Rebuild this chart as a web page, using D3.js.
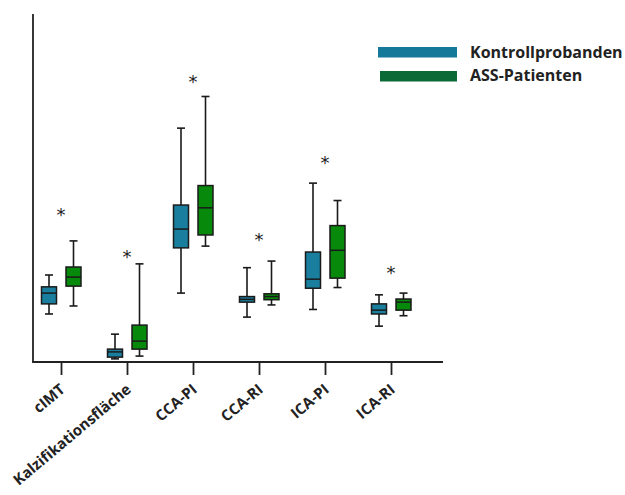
<!DOCTYPE html>
<meta charset="utf-8">
<script src="https://d3js.org/d3.v7.min.js"></script>
<style>
  body { margin: 0; background: #fff; }
  text { font-family: "Open Sans", Lato, sans-serif; }
</style>
<div id="my_dataviz"></div>
<script>

// categories and groups
var categories = ["cIMT", "Kalzifikationsfläche", "CCA-PI", "CCA-RI", "ICA-PI", "ICA-RI"];
var groups = ["Kontrollprobanden", "ASS-Patienten"];

// box statistics per category: [min, q1, median, q3, max] (arbitrary units, no y ticks in original)
var kontrolle = [
  [13.8, 16.7, 19.8, 21.6, 25.0],
  [0.9, 1.4, 2.9, 3.7, 8.0],
  [19.8, 32.8, 38.2, 45.1, 67.2],
  [12.9, 17.2, 18.0, 18.8, 27.1],
  [15.1, 21.2, 23.8, 31.6, 51.4],
  [10.3, 13.8, 14.9, 16.7, 19.3]
];
var patienten = [
  [16.1, 21.8, 24.4, 27.3, 34.8],
  [1.7, 3.7, 6.0, 10.6, 28.2],
  [33.3, 36.5, 44.3, 50.7, 76.3],
  [16.4, 17.9, 18.8, 19.6, 29.0],
  [21.4, 24.1, 32.1, 39.2, 46.4],
  [13.3, 14.9, 17.2, 18.1, 19.8]
];
// height of the significance star per category
var stars = [43.4, 31.3, 81.6, 36.2, 58.2, 26.7];

var boxColors = ["#1a7f9e", "#078a0b"];
var legendColors = ["#15799a", "#0b6a35"];

var width = 625, height = 495;
var axisLeft = 33, axisRight = 443, axisTop = 14, axisBottom = 362;

var svg = d3.select("#my_dataviz")
  .append("svg")
    .attr("width", width)
    .attr("height", height);

var x = d3.scalePoint()
  .domain(categories)
  .range([61, 391]);

var y = d3.scaleLinear()
  .domain([0, 100])
  .range([axisBottom, axisTop]);

var offset = d3.scalePoint()
  .domain(groups)
  .range([-12, 12.5]);

var boxWidth = 15, capWidth = 8;

// axes lines
svg.append("line")
  .attr("x1", axisLeft).attr("x2", axisLeft)
  .attr("y1", axisTop).attr("y2", axisBottom)
  .attr("stroke", "#222").attr("stroke-width", 1.8);

var xAxis = svg.append("g")
  .attr("transform", "translate(0," + axisBottom + ")")
  .call(d3.axisBottom(x).tickSize(13).tickFormat(""));
xAxis.select(".domain").remove();
xAxis.selectAll(".tick line").attr("stroke", "#222").attr("stroke-width", 1.8);
svg.append("line")
  .attr("x1", axisLeft - 0.9).attr("x2", axisRight)
  .attr("y1", axisBottom).attr("y2", axisBottom)
  .attr("stroke", "#222").attr("stroke-width", 1.8);

// rotated category labels
svg.append("g").selectAll("text")
  .data(categories)
  .enter()
  .append("text")
    .attr("transform", function(d) { return "translate(" + (x(d) + 5) + ",391) rotate(-40)"; })
    .attr("text-anchor", "end")
    .style("font-size", "15px")
    .style("font-weight", "bold")
    .style("fill", "#222")
    .text(function(d) { return d; });

// boxes
var series = [kontrolle, patienten];
series.forEach(function(data, gi) {
  var g = svg.append("g");
  var cx = function(d, i) { return x(categories[i]) + offset(groups[gi]); };

  g.selectAll(".whisker")
    .data(data).enter().append("line")
      .attr("x1", cx).attr("x2", cx)
      .attr("y1", function(d) { return y(d[0]); })
      .attr("y2", function(d) { return y(d[4]); })
      .attr("stroke", "#1a1a1a").attr("stroke-width", 1.6);

  [0, 4].forEach(function(k) {
    g.selectAll(".cap" + k)
      .data(data).enter().append("line")
        .attr("x1", function(d, i) { return cx(d, i) - capWidth / 2; })
        .attr("x2", function(d, i) { return cx(d, i) + capWidth / 2; })
        .attr("y1", function(d) { return y(d[k]); })
        .attr("y2", function(d) { return y(d[k]); })
        .attr("stroke", "#1a1a1a").attr("stroke-width", 1.6);
  });

  g.selectAll("rect")
    .data(data).enter().append("rect")
      .attr("x", function(d, i) { return cx(d, i) - boxWidth / 2; })
      .attr("y", function(d) { return y(d[3]); })
      .attr("width", boxWidth)
      .attr("height", function(d) { return y(d[1]) - y(d[3]); })
      .attr("fill", boxColors[gi])
      .attr("stroke", "#1a1a1a").attr("stroke-width", 1.5);

  g.selectAll(".median")
    .data(data).enter().append("line")
      .attr("x1", function(d, i) { return cx(d, i) - boxWidth / 2; })
      .attr("x2", function(d, i) { return cx(d, i) + boxWidth / 2; })
      .attr("y1", function(d) { return y(d[2]); })
      .attr("y2", function(d) { return y(d[2]); })
      .attr("stroke", "#1a1a1a").attr("stroke-width", 1.5);
});

// significance stars
svg.append("g").selectAll("text")
  .data(stars)
  .enter()
  .append("text")
    .attr("x", function(d, i) { return x(categories[i]); })
    .attr("y", function(d) { return y(d) + 10; })
    .attr("text-anchor", "middle")
    .style("font-family", "'DejaVu Sans', sans-serif")
    .style("font-size", "18px")
    .style("fill", "#222")
    .text("*");

// legend
var legend = svg.append("g");
legend.selectAll("rect")
  .data(groups).enter().append("rect")
    .attr("x", function(d, i) { return 378 + i * 2; })
    .attr("y", function(d, i) { return 47 + i * 24; })
    .attr("width", function(d, i) { return 79 - i * 2; })
    .attr("height", 10.5)
    .attr("fill", function(d, i) { return legendColors[i]; });
legend.selectAll("text")
  .data(groups).enter().append("text")
    .attr("x", 470)
    .attr("y", function(d, i) { return 58 + i * 23; })
    .style("font-size", "16px")
    .style("font-weight", "bold")
    .style("fill", "#222")
    .text(function(d) { return d; });

</script>
